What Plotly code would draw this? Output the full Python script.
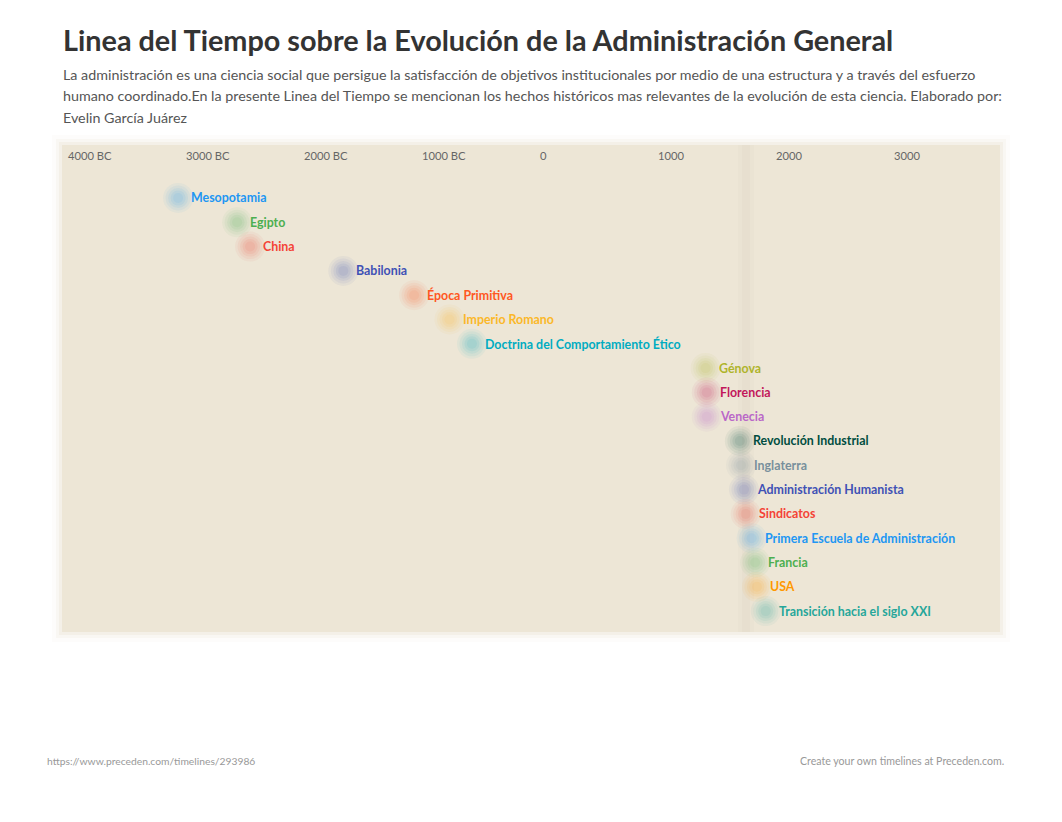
import plotly.graph_objects as go

# ---------------- data ----------------
event_names = [
    "Mesopotamia", "Egipto", "China", "Babilonia", "Época Primitiva",
    "Imperio Romano", "Doctrina del Comportamiento Ético", "Génova",
    "Florencia", "Venecia", "Revolución Industrial", "Inglaterra",
    "Administración Humanista", "Sindicatos",
    "Primera Escuela de Administración", "Francia", "USA",
    "Transición hacia el siglo XXI",
]
event_years = [
    -3050, -2550, -2440, -1650, -1050, -750, -560, 1420,
    1430, 1430, 1710, 1720, 1745, 1760, 1810, 1840, 1855, 1930,
]
event_colors = [
    "#2196f3", "#4caf50", "#f44336", "#3f51b5", "#ff5722",
    "#fbb829", "#00acc1", "#afb42b", "#c2185b", "#ba68c8",
    "#004d40", "#78909c", "#3f51b5", "#f44336", "#2196f3",
    "#4caf50", "#ff9800", "#26a69a",
]
tick_years = [-4000, -3000, -2000, -1000, 0, 1000, 2000, 3000]
tick_labels = ["4000 BC", "3000 BC", "2000 BC", "1000 BC", "0", "1000", "2000", "3000"]

title_text = "Linea del Tiempo sobre la Evolución de la Administración General"
subtitle_lines = [
    "La administración es una ciencia social que persigue la satisfacción de objetivos institucionales por medio de una estructura y a través del esfuerzo",
    "humano coordinado.En la presente Linea del Tiempo se mencionan los hechos históricos mas relevantes de la evolución de esta ciencia. Elaborado por:",
    "Evelin García Juárez",
]
footer_left = "https://www.preceden.com/timelines/293986"
footer_right = "Create your own timelines at Preceden.com."

# ---------------- layout geometry (page pixels, body margin 8px) ----------------
OFF = 8
W, H = 1062 - 2 * OFF, 822 - 2 * OFF
PL, PR, PT, PB = 62, 1000, 145, 632   # plot box in page pixels
L, T = PL - OFF, PT - OFF
R = W - (PR - OFF)
B = H - (PB - OFF)
PW, PH = W - L - R, H - T - B

def px(x):
    return (x - OFF - L) / PW

def py(y):
    return (H - B - (y - OFF)) / PH

rows = list(range(len(event_names)))
X_RANGE = [-4034, 3915]
Y_RANGE = [17.86, -2.18]

FONT = "Lato, 'Open Sans', sans-serif"
BEIGE = "#ede6d6"

fig = go.Figure()

# blurred blobs (stacked translucent circles)
for size, op in [(30, 0.05), (25, 0.06), (20, 0.07), (15, 0.08), (10, 0.08)]:
    fig.add_trace(go.Scatter(
        x=event_years, y=rows, mode="markers",
        marker=dict(size=size, color=event_colors, opacity=op, line=dict(width=0)),
        hoverinfo="skip", showlegend=False,
    ))

annotations = []
for name, yr, r, c in zip(event_names, event_years, rows, event_colors):
    annotations.append(dict(
        x=yr, y=r, xref="x", yref="y", text="<b>%s</b>" % name,
        showarrow=False, xanchor="left", yanchor="middle", xshift=11,
        font=dict(family=FONT, size=12.4, color=c),
    ))

for ty, tl in zip(tick_years, tick_labels):
    annotations.append(dict(
        x=ty, y=py(155), xref="x", yref="paper", text=tl, showarrow=False,
        xanchor="left", yanchor="middle", xshift=0,
        font=dict(family=FONT, size=11.2, color="#666666"),
    ))

annotations.append(dict(
    x=px(61), y=py(40), xref="paper", yref="paper", text="<b>%s</b>" % title_text,
    showarrow=False, xanchor="left", yanchor="middle",
    font=dict(family=FONT, size=28.8, color="#333333"),
))
for i, line in enumerate(subtitle_lines):
    annotations.append(dict(
        x=px(61), y=py(75 + i * 21), xref="paper", yref="paper", text=line,
        showarrow=False, xanchor="left", yanchor="middle",
        font=dict(family=FONT, size=14.3, color="#555555"),
    ))
annotations.append(dict(
    x=px(45), y=py(761), xref="paper", yref="paper", text=footer_left,
    showarrow=False, xanchor="left", yanchor="middle",
    font=dict(family=FONT, size=10.3, color="#999999"),
))
annotations.append(dict(
    x=px(1006), y=py(761), xref="paper", yref="paper", text=footer_right,
    showarrow=False, xanchor="right", yanchor="middle",
    font=dict(family=FONT, size=10.6, color="#999999"),
))

shapes = []
# soft edges of the beige panel
for grow, op in [(10, 0.10), (6, 0.2), (3, 0.4)]:
    shapes.append(dict(
        type="rect", xref="paper", yref="paper", layer="below",
        x0=px(PL - grow), x1=px(PR + grow), y0=py(PB + grow), y1=py(PT - grow),
        fillcolor=BEIGE, opacity=op, line=dict(width=0),
    ))
shapes.append(dict(
    type="rect", xref="paper", yref="paper", layer="below",
    x0=0, x1=1, y0=0, y1=1, fillcolor=BEIGE, line=dict(width=0),
))
# faint darker vertical band
for w, op in [(16, 0.10), (8, 0.15)]:
    shapes.append(dict(
        type="rect", xref="paper", yref="paper", layer="below",
        x0=px(746 - w / 2), x1=px(746 + w / 2), y0=0, y1=1,
        fillcolor="#d9cbbd", opacity=op, line=dict(width=0),
    ))

fig.update_layout(
    width=W, height=H,
    margin=dict(l=L, r=R, t=T, b=B, pad=0),
    paper_bgcolor="white", plot_bgcolor="rgba(0,0,0,0)",
    xaxis=dict(range=X_RANGE, visible=False, showgrid=False, zeroline=False, fixedrange=True),
    yaxis=dict(range=Y_RANGE, visible=False, showgrid=False, zeroline=False, fixedrange=True),
    annotations=annotations, shapes=shapes, showlegend=False,
)

fig.write_html("out.html")
